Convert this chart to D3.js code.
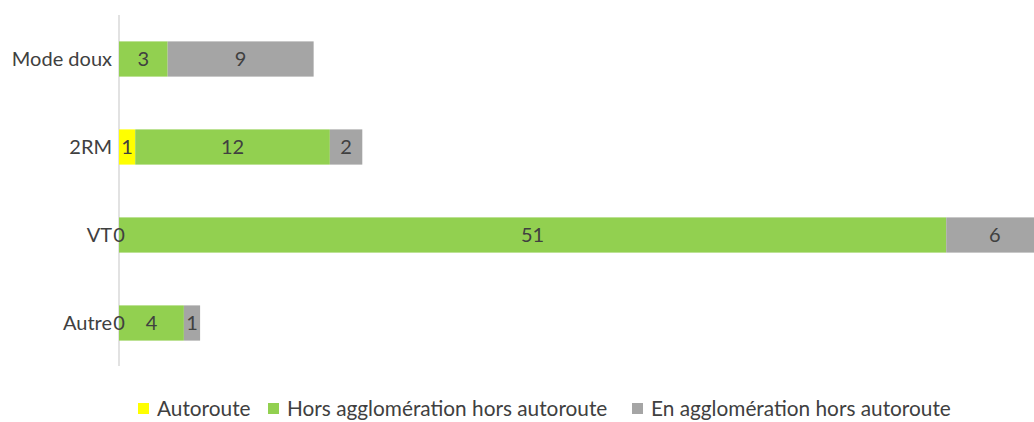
<!DOCTYPE html>
<html>
<head>
<meta charset="utf-8">
<script src="https://cdn.jsdelivr.net/npm/d3@7"></script>
<style>
  body { margin: 0; background: #fff; }
  svg text { font-family: Lato, "Open Sans", sans-serif; fill: #404040; }
</style>
</head>
<body>
<div id="chart"></div>
<script>
// data
var categories = ["Mode doux", "2RM", "VT", "Autre"];
var seriesNames = ["Autoroute", "Hors agglomération hors autoroute", "En agglomération hors autoroute"];
var autoroute = [null, 1, 0, 0];
var horsAgglo = [3, 12, 51, 4];
var enAgglo = [9, 2, 6, 1];
var colors = ["#FFFF00", "#92D050", "#A5A5A5"];

var width = 1034, height = 422;
var fs = "20px";
var svg = d3.select("#chart").append("svg")
    .attr("width", width)
    .attr("height", height);

var x = d3.scaleLinear().domain([0, 60]).range([119, 119 + 60 * 16.22]);
var y = d3.scaleBand().domain(categories).range([15, 367]).paddingInner(0.6).paddingOuter(0.3);

var rows = categories.map(function(c, i){
    return {cat: c, vals: [autoroute[i], horsAgglo[i], enAgglo[i]]};
});

// axis line
svg.append("line")
    .attr("x1", x(0)).attr("x2", x(0))
    .attr("y1", 15).attr("y2", 366)
    .attr("stroke", "#D9D9D9").attr("stroke-width", 1.5);

// segments + labels
var segs = [];
rows.forEach(function(r){
    var acc = 0;
    r.vals.forEach(function(v, si){
        if (v === null) return;
        segs.push({cat: r.cat, v: v, si: si, x0: x(acc), x1: x(acc + v)});
        acc += v;
    });
});

svg.selectAll(".seg").data(segs).enter().append("rect")
    .attr("class", "seg")
    .attr("x", function(d){ return d.x0; })
    .attr("y", function(d){ return y(d.cat); })
    .attr("width", function(d){ return d.x1 - d.x0; })
    .attr("height", y.bandwidth())
    .attr("fill", function(d){ return colors[d.si]; });

svg.selectAll(".lbl").data(segs).enter().append("text")
    .attr("class", "lbl")
    .attr("x", function(d){ return (d.x0 + d.x1) / 2; })
    .attr("y", function(d){ return y(d.cat) + y.bandwidth() / 2; })
    .attr("dy", "0.35em")
    .attr("text-anchor", "middle")
    .style("font-size", fs)
    .text(function(d){ return d.v; });

// category labels
svg.selectAll(".cat").data(categories).enter().append("text")
    .attr("class", "cat")
    .attr("x", 112)
    .attr("y", function(d){ return y(d) + y.bandwidth() / 2; })
    .attr("dy", "0.35em")
    .attr("text-anchor", "end")
    .style("font-size", fs)
    .text(function(d){ return d; });

// legend
var legendX = [138, 268, 632];
var lg = svg.selectAll(".lg").data(seriesNames).enter().append("g")
    .attr("transform", function(d, i){ return "translate(" + legendX[i] + ",403)"; });
lg.append("rect").attr("width", 11).attr("height", 11)
    .attr("fill", function(d, i){ return colors[i]; });
lg.append("text").attr("x", 19).attr("y", 6).attr("dy", "0.35em")
    .style("font-size", "20.8px")
    .text(function(d){ return d; });
</script>
</body>
</html>
